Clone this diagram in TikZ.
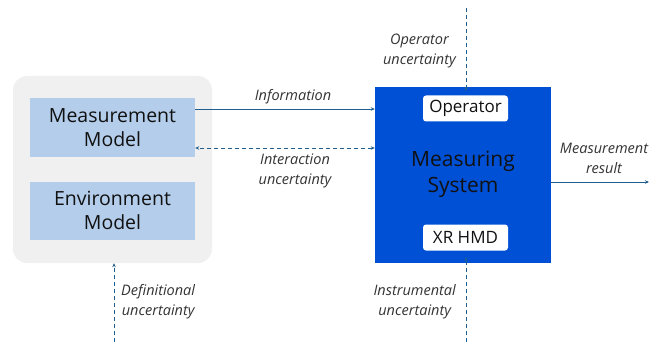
\documentclass[tikz,border=0pt]{standalone}
\usepackage{fontspec}
\setmainfont{Open Sans}
\usetikzlibrary{arrows.meta}
\definecolor{panelgray}{HTML}{F0F0F0}
\definecolor{modelblue}{HTML}{B3CDEB}
\definecolor{sysblue}{HTML}{0050D6}
\definecolor{linkblue}{HTML}{1F5E8E}
\definecolor{textdark}{HTML}{111111}
\tikzset{
  panel/.style={fill=panelgray, draw=none, rounded corners=14pt},
  modelbox/.style={fill=modelblue, draw=none, minimum width=165pt, minimum height=58pt,
    align=center, font=\fontsize{19.5}{24}\selectfont, text=textdark, inner sep=0pt},
  sysbox/.style={fill=sysblue, draw=none, minimum width=176pt, minimum height=176pt, inner sep=0pt},
  tagbox/.style={fill=white, draw=none, rounded corners=3pt, minimum width=85pt,
    minimum height=26pt, inner sep=0pt, font=\fontsize{17}{18}\selectfont, text=textdark},
  lbl/.style={font=\itshape\fontsize{14.5}{20}\selectfont, text=black!80, align=center, inner sep=0pt},
  link/.style={draw=linkblue, line width=0.9pt, -{Stealth[length=4pt,width=3.5pt]}},
  unc/.style={link, dashed, dash pattern=on 4pt off 3pt},
}
\begin{document}
\begin{tikzpicture}[x=1pt,y=-1pt]
  \useasboundingbox (0,0) rectangle (666,342);
  % environment panel with the two models
  \node[panel, minimum width=199pt, minimum height=187pt] (env) at (112.5,169.5) {};
  \node[modelbox] (mm) at (112.5,127.5) {Measurement\\Model};
  \node[modelbox] (em) at (112.5,210.5) {Environment\\Model};
  % measuring system
  \node[sysbox] (ms) at (463,175) {};
  \node[align=center, font=\fontsize{21}{26}\selectfont, text=textdark] (mstext) at (463,174) {Measuring\\System};
  \node[tagbox] (op) at (465.5,108.5) {Operator};
  \node[tagbox] (hmd) at (465.5,237.5) {XR HMD};
  % free ends of the uncertainty lines
  \coordinate (optop) at (466,8);
  \coordinate (opend) at (466,91);
  \coordinate (inbot) at (466,342);
  \coordinate (inend) at (466,257);
  \coordinate (defbot) at (114,342);
  \coordinate (out) at (649,182);
  % connectors
  \draw[link] (mm.east |- 0,109) -- (ms.west |- 0,109);
  \node[lbl] (infl) at (293,97) {Information};
  \draw[unc, {Stealth[length=4pt,width=3.5pt]}-{Stealth[length=4pt,width=3.5pt]}]
    (ms.west |- 0,148) -- (mm.east |- 0,148);
  \node[lbl] (intl) at (295,170.5) {Interaction\\uncertainty};
  \draw[link] (ms.east |- out) -- (out);
  \node[lbl] (resl) at (604,158.5) {Measurement\\result};
  \draw[unc] (optop) -- (opend);
  \node[lbl, anchor=east] (opl) at (456,50.5) {Operator\\uncertainty};
  \draw[unc] (inbot) -- (inend);
  \node[lbl, anchor=east] (inl) at (456,301.5) {Instrumental\\uncertainty};
  \draw[unc] (defbot) -- (env.south -| defbot);
  \node[lbl, anchor=west] (defl) at (121,301.5) {Definitional\\uncertainty};
\end{tikzpicture}
\end{document}
